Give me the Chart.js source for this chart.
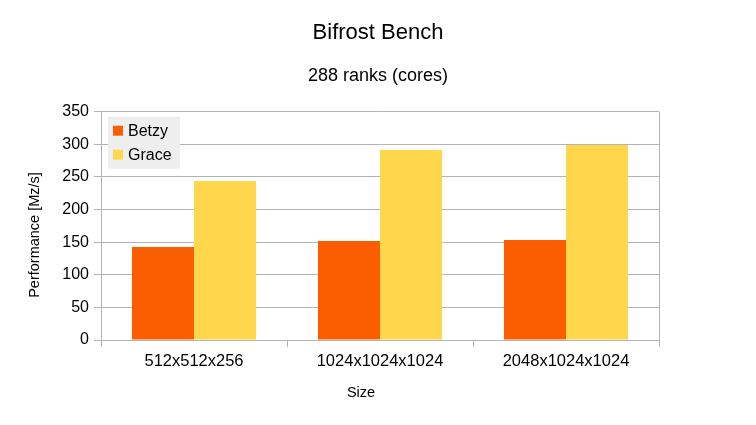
<!DOCTYPE html>
<html>
<head>
<meta charset="utf-8">
<script src="https://cdn.jsdelivr.net/npm/chart.js@4/dist/chart.umd.min.js"></script>
<style>
  html, body { margin: 0; padding: 0; background: #fff; }
  #wrap { width: 756px; height: 425px; }
</style>
</head>
<body>
<div id="wrap"><canvas id="bench"></canvas></div>
<script>
const sizes = ['512x512x256', '1024x1024x1024', '2048x1024x1024'];
const betzy = [142.5, 151.7, 153.3];
const grace = [243.7, 291.2, 298.9];
const seriesNames = ['Betzy', 'Grace'];
const seriesColors = ['#fb5e00', '#ffd64c'];

const gridColor = '#b3b3b3';
const fontFamily = '"Liberation Sans", Arial, sans-serif';

// legend box, axis titles and right frame, drawn like the original
const extras = {
    id: 'extras',
    afterDatasetsDraw(chart) {
        const ctx = chart.ctx;
        const area = chart.chartArea;
        ctx.save();
        ctx.strokeStyle = gridColor;
        ctx.lineWidth = 1;
        ctx.beginPath();
        ctx.moveTo(Math.round(area.right) + 0.5, area.top);
        ctx.lineTo(Math.round(area.right) + 0.5, area.bottom);
        ctx.stroke();

        const x = area.left + 7, y = area.top + 5;
        ctx.fillStyle = '#eeeeee';
        ctx.fillRect(x, y, 72, 52);
        ctx.font = '16px ' + fontFamily;
        ctx.textBaseline = 'middle';
        seriesNames.forEach(function (name, i) {
            const cy = y + 14 + i * 24;
            ctx.fillStyle = seriesColors[i];
            ctx.fillRect(x + 5, cy - 5, 10, 10);
            ctx.fillStyle = '#000';
            ctx.fillText(name, x + 20, cy + 1);
        });

        // axis titles
        ctx.font = '14.5px ' + fontFamily;
        ctx.textAlign = 'center';
        ctx.fillStyle = '#000';
        ctx.fillText('Size', 361, 393);
        ctx.translate(35, 235);
        ctx.rotate(-Math.PI / 2);
        ctx.fillText('Performance [Mz/s]', 0, 0);
        ctx.restore();
    }
};

const benchData = {
    labels: sizes,
    datasets: [
        {
            label: seriesNames[0],
            data: betzy,
            backgroundColor: seriesColors[0],
            categoryPercentage: 0.667,
            barPercentage: 1.0
        },
        {
            label: seriesNames[1],
            data: grace,
            backgroundColor: seriesColors[1],
            categoryPercentage: 0.667,
            barPercentage: 1.0
        }
    ]
};

const benchConfig = {
    type: 'bar',
    data: benchData,
    plugins: [extras],
    options: {
        responsive: true,
        maintainAspectRatio: false,
        animation: false,
        layout: { padding: 0 },
        plugins: {
            legend: { display: false },
            tooltip: { enabled: false },
            title: {
                display: true,
                text: 'Bifrost Bench',
                color: '#000',
                font: { family: fontFamily, size: 22, weight: 'normal' },
                padding: { top: 20, bottom: 17 }
            },
            subtitle: {
                display: true,
                text: '288 ranks (cores)',
                color: '#000',
                font: { family: fontFamily, size: 18, weight: 'normal' },
                padding: { top: 1.8, bottom: 24.9 }
            }
        },
        scales: {
            x: {
                grid: {
                    offset: true,
                    drawOnChartArea: false,
                    color: gridColor,
                    tickLength: 7
                },
                border: { color: gridColor },
                ticks: {
                    color: '#000',
                    font: { family: fontFamily, size: 16.5 },
                    padding: 5,
                    maxRotation: 0
                },
                afterFit: function (scale) { scale.height = 85; }
            },
            y: {
                min: 0,
                max: 350,
                ticks: {
                    stepSize: 50,
                    color: '#000',
                    font: { family: fontFamily, size: 16 },
                    padding: 5
                },
                grid: { color: gridColor, tickLength: 7 },
                border: { color: gridColor },
                afterFit: function (scale) { scale.width = 101; }
            },
            // empty right-hand axis, only keeps the space on the right
            yRight: {
                position: 'right',
                display: true,
                ticks: { display: false },
                grid: { display: false },
                border: { display: false },
                afterFit: function (scale) { scale.width = 97; }
            }
        }
    }
};

const benchChart = new Chart(document.getElementById('bench'), benchConfig);
</script>
</body>
</html>
